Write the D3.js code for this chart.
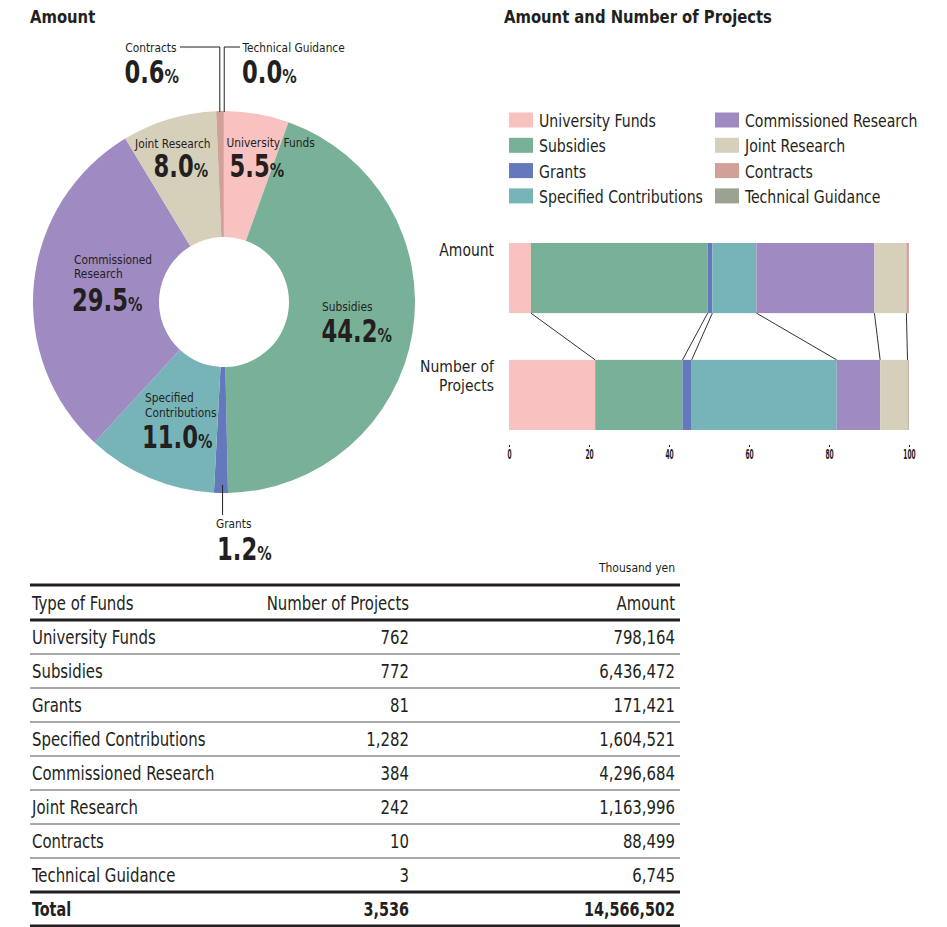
<!DOCTYPE html>
<html>
<head>
<meta charset="utf-8">
<script src="https://cdn.jsdelivr.net/npm/d3@7"></script>
<style>
  body { margin: 0; background: #fff; }
  svg text { font-family: "DejaVu Sans Condensed", "DejaVu Sans", sans-serif; fill: #231f20; }
  .title { font-weight: bold; font-size: 18.5px; }
  .pieName { font-size: 13px; }
  .pieNum { font-weight: bold; font-size: 31.5px; }
  .piePct { font-weight: bold; font-size: 20px; }
  .legendText { font-size: 18px; }
  .rowLabel { font-size: 18px; }
  .rowLabel2 { font-size: 16px; }
  .tick text { font-size: 14px; font-weight: bold; }
  .cell { font-size: 19.5px; }
  .total { font-weight: bold; }
  .unit { font-size: 12px; }
</style>
</head>
<body>
<script>
(function(){

    //data
    var categories = ["University Funds", "Subsidies", "Grants", "Specified Contributions",
                      "Commissioned Research", "Joint Research", "Contracts", "Technical Guidance"];
    var projects = [762, 772, 81, 1282, 384, 242, 10, 3];
    var amounts = [798164, 6436472, 171421, 1604521, 4296684, 1163996, 88499, 6745];
    var colors = ["#f8c2c1", "#79b198", "#6478bc", "#77b4b8", "#a08ac2", "#d6d0bb", "#d1a096", "#9ba291"];
    var barRows = ["Amount", "Number of Projects"];
    var xTicks = [0, 20, 40, 60, 80, 100];

    var width = 947, height = 927;
    var fmtPct = d3.format(".1f"), fmtNum = d3.format(",");

    var svg = d3.select("body").append("svg")
        .attr("width", width)
        .attr("height", height);

    //text squeezed horizontally to mimic a condensed face
    function label(parent, x, y, str, cls, anchor, sx){
        return parent.append("text")
            .attr("class", cls)
            .attr("text-anchor", anchor || "start")
            .attr("transform", "translate(" + x + "," + y + ") scale(" + sx + ",1)")
            .text(str);
    }
    //same, several lines in one text element
    function multiLabel(parent, x, y, lines, lead, cls, anchor, sx){
        var t = label(parent, x, y, "", cls, anchor, sx);
        lines.forEach(function(line, j){
            t.append("tspan")
                .attr("x", 0)
                .attr("dy", j == 0 ? 0 : lead)
                .text(line);
        });
        return t;
    }

    //titles
    label(svg, 30, 23, "Amount", "title", "start", 0.89);
    label(svg, 504, 23, "Amount and Number of Projects", "title", "start", 0.89);

    var totalAmount = d3.sum(amounts), totalProjects = d3.sum(projects);

    //------------------ donut ------------------
    var cx = 224, cy = 302, rOuter = 191, rInner = 65;
    var pie = d3.pie().sort(null).value(function(d){ return d; });
    var arc = d3.arc().innerRadius(rInner).outerRadius(rOuter);
    var arcs = pie(amounts);

    var donut = svg.append("g").attr("transform", "translate(" + cx + "," + cy + ")");
    donut.selectAll(".slice")
        .data(arcs)
        .enter()
        .append("path")
        .attr("class", "slice")
        .attr("d", arc)
        .style("fill", function(d, i){ return colors[i]; });

    //label placement: name position, name lines, percentage position
    var pieLabels = [
        {x: 226.5, y: 146.5, anchor: "start", lines: ["University Funds"], px: 229.5, py: 177},
        {x: 322, y: 311, anchor: "start", lines: ["Subsidies"], px: 321.5, py: 342},
        {x: 216, y: 528, anchor: "start", lines: ["Grants"], px: 217, py: 560},
        {x: 145, y: 402, anchor: "start", lines: ["Specified", "Contributions"], px: 142, py: 448},
        {x: 74, y: 263.5, anchor: "start", lines: ["Commissioned", "Research"], px: 72, py: 311},
        {x: 135, y: 147.5, anchor: "start", lines: ["Joint Research"], px: 153.5, py: 177},
        {x: 176.5, y: 52, anchor: "end", lines: ["Contracts"], px: 179, py: 83},
        {x: 242.5, y: 52, anchor: "start", lines: ["Technical Guidance"], px: 242, py: 83}
    ];

    pieLabels.forEach(function(lab, i){
        var g = svg.append("g");
        multiLabel(g, lab.x, lab.y, lab.lines, 15, "pieName", lab.anchor, 0.91);
        var t = label(g, lab.px, lab.py, "", "", lab.anchor, 0.8);
        t.append("tspan").attr("class", "pieNum").text(fmtPct(amounts[i] / totalAmount * 100));
        t.append("tspan").attr("class", "piePct").text("%");
    });

    //leader lines for thin slices
    function edgePoint(d, r){
        var a = (d.startAngle + d.endAngle) / 2;
        return [cx + r * Math.sin(a), cy - r * Math.cos(a)];
    }
    var pc = edgePoint(arcs[6], rOuter), pt = edgePoint(arcs[7], rOuter), pg = edgePoint(arcs[2], rOuter - 8);
    svg.append("path")
        .attr("d", "M" + pc[0] + "," + (pc[1] + 1) + "V47H180")
        .attr("fill", "none").attr("stroke", "#231f20").attr("stroke-width", 1);
    svg.append("path")
        .attr("d", "M" + (pt[0] + 0.5) + "," + (pt[1] + 1) + "V47H240")
        .attr("fill", "none").attr("stroke", "#231f20").attr("stroke-width", 1);
    svg.append("path")
        .attr("d", "M" + (pg[0] + 1.5) + "," + pg[1] + "V515")
        .attr("fill", "none").attr("stroke", "#231f20").attr("stroke-width", 1);

    //------------------ legend ------------------
    var legend = svg.append("g").attr("class", "legend");
    var legendItems = legend.selectAll(".item")
        .data(categories)
        .enter()
        .append("g")
        .attr("class", "item")
        .attr("transform", function(d, i){
            var col = Math.floor(i / 4), row = i % 4;
            return "translate(" + (509 + col * 206) + "," + (112.5 + row * 25.3) + ")";
        });
    legendItems.append("rect")
        .attr("width", 24)
        .attr("height", 15)
        .style("fill", function(d, i){ return colors[i]; });
    legendItems.each(function(d){
        label(d3.select(this), 30, 14.5, d, "legendText", "start", 0.87);
    });

    //------------------ stacked bars ------------------
    var x = d3.scaleLinear().domain([0, 100]).range([509, 909]);
    var y = d3.scaleBand().domain(barRows).range([243, 430]).paddingInner(0.4).paddingOuter(0);

    function stackShares(vals){
        var tot = d3.sum(vals), acc = 0;
        return vals.map(function(v, i){
            var s = acc;
            acc += v / tot * 100;
            return {i: i, x0: s, x1: acc};
        });
    }
    var rowsData = [stackShares(amounts), stackShares(projects)];

    rowsData.forEach(function(segs, r){
        svg.selectAll(".bar" + r)
            .data(segs)
            .enter()
            .append("rect")
            .attr("class", "bar" + r)
            .attr("x", function(d){ return x(d.x0); })
            .attr("width", function(d){ return x(d.x1) - x(d.x0); })
            .attr("y", y(barRows[r]))
            .attr("height", y.bandwidth())
            .style("fill", function(d){ return colors[d.i]; });
    });

    //connector lines between segment boundaries
    var boundaries = d3.range(categories.length - 2);
    svg.selectAll(".connector")
        .data(boundaries)
        .enter()
        .append("line")
        .attr("class", "connector")
        .attr("x1", function(i){ return x(rowsData[0][i].x1); })
        .attr("y1", y(barRows[0]) + y.bandwidth())
        .attr("x2", function(i){ return x(rowsData[1][i].x1); })
        .attr("y2", y(barRows[1]))
        .attr("stroke", "#333")
        .attr("stroke-width", 1);

    //row labels
    label(svg, 494, 256, "Amount", "rowLabel", "end", 0.86);
    multiLabel(svg, 494, 372, ["Number of", "Projects"], 19, "rowLabel2", "end", 0.97);

    //x axis
    var xAxis = d3.axisBottom(x).tickValues(xTicks).tickSize(2).tickPadding(2);
    var axis = svg.append("g")
        .attr("transform", "translate(0,445)")
        .call(xAxis);
    axis.select(".domain").remove();
    axis.selectAll(".tick line").attr("stroke", "#231f20");
    axis.selectAll(".tick text").attr("transform", "scale(0.47,1)");

    //------------------ table ------------------
    var tLeft = 30, tRight = 680, colName = 32, colProj = 409, colAmt = 675;
    var headerY = 585, rowH = 34, firstRow = 620;

    label(svg, colAmt, 572, "Thousand yen", "unit", "end", 1);

    function hline(yy, w, c){
        svg.append("line").attr("x1", tLeft).attr("x2", tRight)
            .attr("y1", yy).attr("y2", yy)
            .attr("stroke", c).attr("stroke-width", w);
    }
    hline(headerY, 3, "#231f20");
    hline(firstRow, 3, "#231f20");

    var header = ["Type of Funds", "Number of Projects", "Amount"];
    function tableRow(cells, yy, cls, sx){
        label(svg, colName, yy, cells[0], "cell " + cls, "start", sx);
        label(svg, colProj, yy, cells[1], "cell " + cls, "end", sx);
        label(svg, colAmt, yy, cells[2], "cell " + cls, "end", sx);
    }
    tableRow(header, 610, "", 0.85);

    categories.forEach(function(c, i){
        var top = firstRow + i * rowH;
        tableRow([c, fmtNum(projects[i]), fmtNum(amounts[i])], top + 24, "", 0.85);
        if (i < categories.length - 1) hline(top + rowH, 1, "#555");
    });
    var totTop = firstRow + categories.length * rowH;
    hline(totTop, 3, "#231f20");
    tableRow(["Total", fmtNum(totalProjects), fmtNum(totalAmount)], totTop + 24, "total", 0.82);
    hline(totTop + rowH, 3, "#231f20");

})();
</script>
</body>
</html>
